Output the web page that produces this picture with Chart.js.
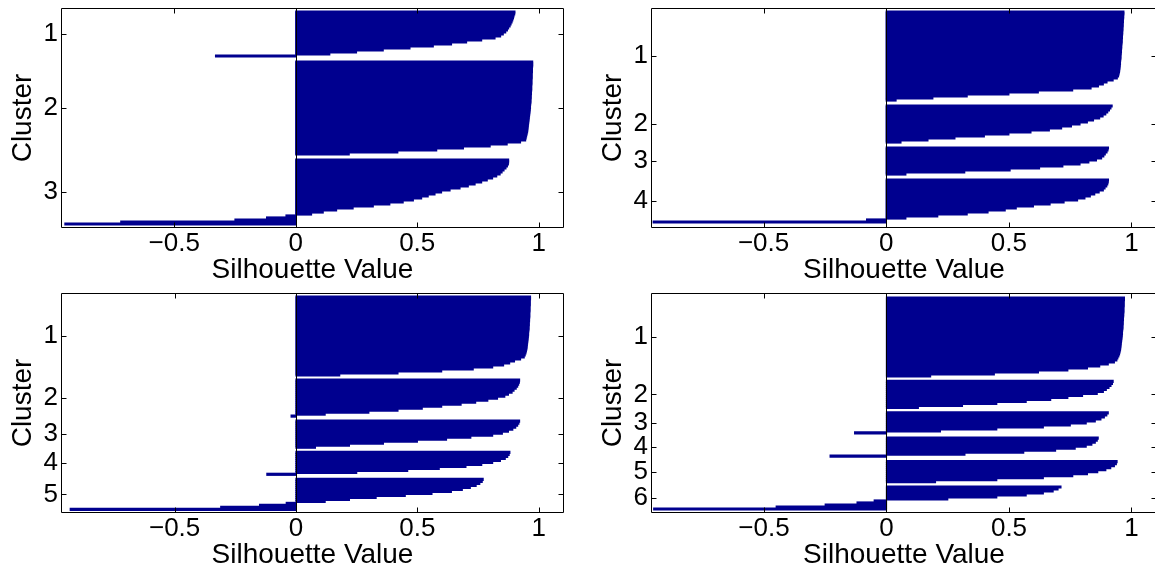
<!DOCTYPE html>
<html>
<head>
<meta charset="utf-8">
<script src="https://cdn.jsdelivr.net/npm/chart.js@4.4.1/dist/chart.umd.min.js"></script>
<style>
  html, body { margin: 0; padding: 0; background: #fff; }
  body { width: 1155px; height: 566px; overflow: hidden; position: relative; }
  .panel { position: absolute; width: 578px; height: 285px; }
</style>
</head>
<body>
<div class="panel" style="left:0;top:0"><canvas id="sil3" width="578" height="285"></canvas></div>
<div class="panel" style="left:590px;top:0"><canvas id="sil4" width="578" height="285"></canvas></div>
<div class="panel" style="left:0;top:285px"><canvas id="sil5" width="578" height="285"></canvas></div>
<div class="panel" style="left:590px;top:285px"><canvas id="sil6" width="578" height="285"></canvas></div>
<script>
// silhouette values, sorted inside each cluster
// k = 3
let sil3_c1 = [0.902, 0.901, 0.898, 0.896, 0.893, 0.890, 0.886, 0.882, 0.876, 0.871, 0.864, 0.854, 0.843, 0.820, 0.765, 0.703, 0.641, 0.566, 0.470, 0.360, 0.250, 0.140, -0.33];
let sil3_c2 = [0.975, 0.975, 0.975, 0.974, 0.974, 0.974, 0.973, 0.973, 0.973, 0.972,
  0.972, 0.972, 0.971, 0.971, 0.971, 0.970, 0.970, 0.969, 0.969, 0.968,
  0.968, 0.967, 0.966, 0.966, 0.965, 0.964, 0.963, 0.962, 0.961, 0.960,
  0.959, 0.958, 0.957, 0.956, 0.955, 0.954, 0.952, 0.950, 0.948,
  0.946, 0.925, 0.870, 0.800, 0.690, 0.580, 0.420, 0.220];
let sil3_c3 = [0.876, 0.876, 0.875, 0.871, 0.865, 0.857, 0.849, 0.841, 0.827, 0.810,
  0.788, 0.765, 0.738, 0.710, 0.676, 0.635, 0.600, 0.573, 0.545, 0.518,
  0.484, 0.442, 0.387, 0.319, 0.236, 0.168, 0.113, 0.065,
  -0.04, -0.12, -0.25, -0.72, -0.95];

// k = 4
let sil4_c1 = [0.969, 0.969, 0.968, 0.968, 0.967, 0.967, 0.966, 0.966, 0.965, 0.965,
  0.964, 0.964, 0.963, 0.963, 0.962, 0.962, 0.961, 0.960, 0.960, 0.959,
  0.959, 0.958, 0.957, 0.957, 0.956, 0.955, 0.955, 0.954, 0.953, 0.952,
  0.951, 0.949, 0.947, 0.942, 0.925, 0.900, 0.885, 0.865, 0.835, 0.760,
  0.620, 0.500, 0.330, 0.190, 0.040];
let sil4_c2 = [0.921, 0.916, 0.910, 0.903, 0.895, 0.884, 0.870, 0.845, 0.820, 0.790, 0.755, 0.715, 0.665, 0.590, 0.500, 0.400, 0.280, 0.170, 0.060];
let sil4_c3 = [0.906, 0.904, 0.900, 0.893, 0.887, 0.878, 0.857, 0.826, 0.790, 0.720, 0.625, 0.505, 0.320, 0.080];
let sil4_c4 = [0.906, 0.905, 0.903, 0.899, 0.892, 0.885, 0.868, 0.850, 0.832, 0.810, 0.780, 0.725, 0.668, 0.600, 0.530, 0.485, 0.415, 0.330, 0.210, 0.080, -0.08, -0.95];

// k = 5
let sil5_c1 = [0.966, 0.966, 0.965, 0.965, 0.965, 0.964, 0.964, 0.964, 0.963, 0.963,
  0.963, 0.962, 0.962, 0.961, 0.961, 0.960, 0.960, 0.959, 0.958, 0.958,
  0.957, 0.956, 0.955, 0.954, 0.953, 0.952, 0.951, 0.949, 0.947, 0.944,
  0.940, 0.925, 0.900, 0.880, 0.855, 0.810, 0.730, 0.600, 0.420, 0.180];
let sil5_c2 = [0.921, 0.920, 0.917, 0.913, 0.907, 0.898, 0.890, 0.875, 0.860, 0.830, 0.790, 0.740, 0.680, 0.600, 0.520, 0.420, 0.300, 0.120, -0.02];
let sil5_c3 = [0.921, 0.918, 0.913, 0.905, 0.893, 0.875, 0.850, 0.810, 0.720, 0.620, 0.500, 0.360, 0.220, 0.080];
let sil5_c4 = [0.881, 0.878, 0.872, 0.862, 0.842, 0.810, 0.765, 0.700, 0.590, 0.460, 0.250, -0.12];
let sil5_c5 = [0.771, 0.767, 0.757, 0.742, 0.718, 0.685, 0.640, 0.560, 0.450, 0.330, 0.220, 0.120, -0.04, -0.15, -0.31, -0.93];

// k = 6
let sil6_c1 = [0.971, 0.971, 0.970, 0.970, 0.970, 0.969, 0.969, 0.969, 0.968, 0.968,
  0.967, 0.967, 0.966, 0.966, 0.965, 0.965, 0.964, 0.963, 0.963, 0.962,
  0.961, 0.960, 0.959, 0.958, 0.957, 0.956, 0.955, 0.953, 0.951, 0.948,
  0.944, 0.940, 0.930, 0.905, 0.870, 0.820, 0.740, 0.620, 0.440, 0.180];
let sil6_c2 = [0.925, 0.922, 0.916, 0.908, 0.897, 0.885, 0.860, 0.800, 0.740, 0.670, 0.570, 0.450, 0.310, 0.130];
let sil6_c3 = [0.905, 0.899, 0.889, 0.875, 0.852, 0.815, 0.750, 0.640, 0.450, 0.220, -0.13];
let sil6_c4 = [0.864, 0.860, 0.852, 0.838, 0.815, 0.770, 0.690, 0.560, 0.320, -0.23];
let sil6_c5 = [0.941, 0.938, 0.930, 0.915, 0.895, 0.862, 0.820, 0.760, 0.640, 0.450, 0.200];
let sil6_c6 = [0.712, 0.700, 0.680, 0.640, 0.570, 0.450, 0.250, -0.05, -0.12, -0.25, -0.45, -0.95];

let xTickValues = [-0.5, 0, 0.5, 1];
let xTitle = "Silhouette Value";
let yTitle = "Cluster";

let barColor = "rgb(0, 0, 143)";
let fontFamily = "'Liberation Sans', Arial, Helvetica, sans-serif";

// one row per point, a blank gap between clusters (like matlab's silhouette)
function buildRows(clusters, topPad, gap) {
  let points = [];
  let centers = [];
  let pos = topPad;
  clusters.forEach((vals) => {
    let start = pos;
    vals.forEach((v) => {
      points.push({ x: v, y: pos + 0.5 });
      pos += 1;
    });
    centers.push((start + pos) / 2);
    pos += gap;
  });
  return { points, centers };
}

// box, inward ticks and the zero baseline
let boxPlugin = {
  id: "matlabBox",
  afterDatasetsDraw(chart) {
    let ctx = chart.ctx;
    let a = chart.chartArea;
    let xs = chart.scales.x;
    let ys = chart.scales.y;
    let L = Math.round(a.left) - 0.5, R = Math.round(a.right) + 0.5;
    let T = Math.round(a.top) - 0.5, B = Math.round(a.bottom) + 0.5;
    ctx.save();
    ctx.strokeStyle = "#000";
    ctx.lineWidth = 1;
    ctx.beginPath();
    let x0 = Math.round(xs.getPixelForValue(0)) + 0.5;
    ctx.moveTo(x0, T);
    ctx.lineTo(x0, B);
    ctx.rect(L, T, R - L, B - T);
    for (let t of xs.ticks) {
      let px = Math.round(xs.getPixelForValue(t.value)) + 0.5;
      ctx.moveTo(px, B);
      ctx.lineTo(px, B - 5);
      ctx.moveTo(px, T);
      ctx.lineTo(px, T + 5);
    }
    for (let t of ys.ticks) {
      let py = Math.round(ys.getPixelForValue(t.value)) + 0.5;
      ctx.moveTo(L, py);
      ctx.lineTo(L + 5, py);
      ctx.moveTo(R, py);
      ctx.lineTo(R - 5, py);
    }
    ctx.stroke();
    ctx.restore();
  },
};

function makeChart(id, clusters, xMin, topPad, gap, rightPad) {
  let rows = buildRows(clusters, topPad, gap);
  return new Chart(document.getElementById(id), {
    type: "bar",
    data: {
      datasets: [
        {
          data: rows.points,
          backgroundColor: barColor,
          borderWidth: 0,
          barPercentage: 1,
          categoryPercentage: 1,
          inflateAmount: 0.6,
        },
      ],
    },
    options: {
      indexAxis: "y",
      responsive: false,
      animation: false,
      layout: { padding: { top: 9, right: rightPad, left: 0, bottom: 0 } },
      plugins: { legend: { display: false }, tooltip: { enabled: false } },
      scales: {
        x: {
          type: "linear",
          min: xMin,
          max: 1.1,
          grid: { display: false, drawTicks: false },
          border: { display: false },
          afterBuildTicks: (s) => {
            s.ticks = xTickValues.map((v) => ({ value: v }));
          },
          afterFit: (s) => {
            s.height = 58;
            s.paddingLeft = 0;
            s.paddingRight = 0;
          },
          ticks: {
            autoSkip: false,
            maxRotation: 0,
            padding: 1,
            color: "#000",
            font: { family: fontFamily, size: 26, lineHeight: 1.2 },
            callback: (v) => (v < 0 ? "\u2212" + Math.abs(v) : String(v)),
          },
          title: {
            display: true,
            text: xTitle,
            color: "#000",
            font: { family: fontFamily, size: 28, lineHeight: 1 },
            padding: { top: 0, bottom: 1 },
          },
        },
        y: {
          type: "linear",
          reverse: true,
          offset: false,
          min: 0,
          max: 109,
          grid: { display: false, drawTicks: false },
          border: { display: false },
          afterBuildTicks: (s) => {
            s.ticks = rows.centers.map((v) => ({ value: v }));
          },
          afterFit: (s) => {
            s.width = 62;
            s.paddingTop = 0;
            s.paddingBottom = 0;
          },
          ticks: {
            autoSkip: false,
            padding: 4,
            color: "#000",
            font: { family: fontFamily, size: 26, lineHeight: 1.2 },
            callback: (v, i) => String(i + 1),
          },
          title: {
            display: true,
            text: yTitle,
            color: "#000",
            font: { family: fontFamily, size: 28, lineHeight: 1 },
            padding: { top: 9, bottom: 0 },
          },
        },
      },
    },
    plugins: [boxPlugin],
  });
}

makeChart("sil3", [sil3_c1, sil3_c2, sil3_c3], -0.962, 1, 2, 15);
makeChart("sil4", [sil4_c1, sil4_c2, sil4_c3, sil4_c4], -0.955, 1, 2, 12);
makeChart("sil5", [sil5_c1, sil5_c2, sil5_c3, sil5_c4, sil5_c5], -0.964, 1, 1.55, 15);
makeChart("sil6", [sil6_c1, sil6_c2, sil6_c3, sil6_c4, sil6_c5, sil6_c6], -0.957, 1.5, 1.7, 12);
</script>
</body>
</html>
